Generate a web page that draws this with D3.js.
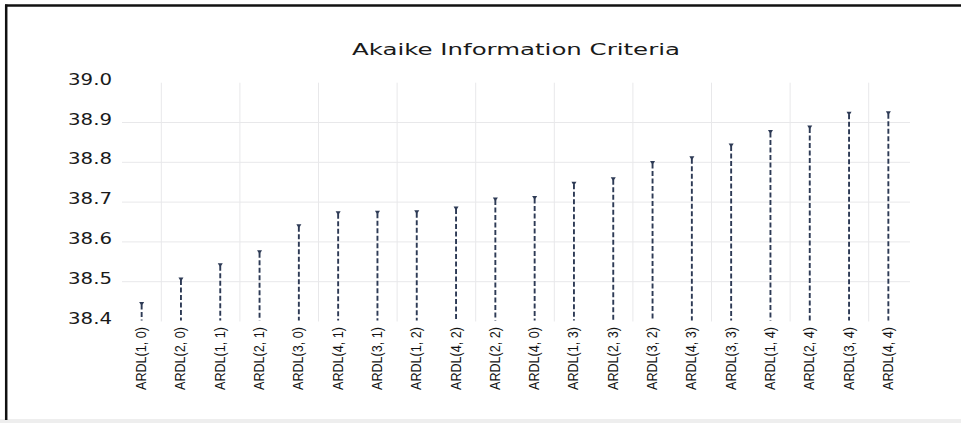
<!DOCTYPE html>
<html>
<head>
<meta charset="utf-8">
<script src="https://cdn.jsdelivr.net/npm/d3@7"></script>
<style>
  html, body { margin: 0; padding: 0; background: #ffffff; }
  svg { display: block; }
</style>
</head>
<body>
<svg id="chart" width="961" height="423"></svg>
<script>
const title = "Akaike Information Criteria";
const categories = ["ARDL(1, 0)", "ARDL(2, 0)", "ARDL(1, 1)", "ARDL(2, 1)", "ARDL(3, 0)",
  "ARDL(4, 1)", "ARDL(3, 1)", "ARDL(1, 2)", "ARDL(4, 2)", "ARDL(2, 2)",
  "ARDL(4, 0)", "ARDL(1, 3)", "ARDL(2, 3)", "ARDL(3, 2)", "ARDL(4, 3)",
  "ARDL(3, 3)", "ARDL(1, 4)", "ARDL(2, 4)", "ARDL(3, 4)", "ARDL(4, 4)"];
const aicValues = [38.448, 38.509, 38.545, 38.578, 38.643,
  38.676, 38.677, 38.678, 38.688, 38.710,
  38.714, 38.750, 38.761, 38.802, 38.814,
  38.846, 38.880, 38.891, 38.926, 38.927];
const yTicks = [38.4, 38.5, 38.6, 38.7, 38.8, 38.9, 39.0];
const yGridTicks = [38.5, 38.6, 38.7, 38.8, 38.9];

const svg = d3.select("#chart");
const stemColor = "#2d3a55";
const gridColor = "#e8e8ea";

// frame
svg.append("rect").attr("x", 0).attr("y", 419).attr("width", 961).attr("height", 4).attr("fill", "#eeeeee");
svg.append("line").attr("x1", 5).attr("x2", 961).attr("y1", 5.5).attr("y2", 5.5)
  .attr("stroke", "#111").attr("stroke-width", 2.5);
svg.append("line").attr("x1", 6.2).attr("x2", 6.2).attr("y1", 4.5).attr("y2", 420)
  .attr("stroke", "#111").attr("stroke-width", 2.5);

const x = d3.scaleBand().domain(categories).range([122, 908]).padding(0);
const y = d3.scaleLinear().domain([38.4, 39.0]).range([321.5, 82.7]);

// horizontal grid
svg.append("g").selectAll("line").data(yGridTicks).join("line")
  .attr("x1", 122).attr("x2", 910)
  .attr("y1", d => y(d)).attr("y2", d => y(d))
  .attr("stroke", gridColor).attr("stroke-width", 1);

// vertical grid at every other category boundary
const vGrid = categories.filter((c, i) => i % 2 === 1);
svg.append("g").selectAll("line").data(vGrid).join("line")
  .attr("x1", d => x(d)).attr("x2", d => x(d))
  .attr("y1", y(39.0)).attr("y2", y(38.4))
  .attr("stroke", gridColor).attr("stroke-width", 1);

// title
svg.append("text").attr("x", 516).attr("y", 55)
  .attr("text-anchor", "middle")
  .attr("font-family", "DejaVu Sans, sans-serif").attr("font-size", 15.5)
  .attr("fill", "#1a1a1a")
  .attr("textLength", 328).attr("lengthAdjust", "spacingAndGlyphs")
  .text(title);

// y axis
const yAxis = svg.append("g").attr("transform", "translate(122,0)")
  .call(d3.axisLeft(y).tickValues(yTicks).tickSize(0).tickPadding(10).tickFormat(d3.format(".1f")));
yAxis.select(".domain").remove();
yAxis.selectAll("text")
  .attr("font-family", "DejaVu Sans, sans-serif").attr("font-size", 15)
  .attr("fill", "#1a1a1a").attr("dy", "0.1em")
  .attr("textLength", 44).attr("lengthAdjust", "spacingAndGlyphs");

// x axis labels
const xAxis = svg.append("g").attr("transform", `translate(0,${y(38.4)})`)
  .call(d3.axisBottom(x).tickSize(0).tickPadding(0));
xAxis.select(".domain").remove();
xAxis.selectAll(".tick text")
  .attr("transform", "translate(4.5,5.5) rotate(-90)")
  .attr("x", 0).attr("y", 0).attr("dy", 0)
  .attr("text-anchor", "end")
  .attr("font-family", "Liberation Sans Narrow, Liberation Sans, Arial Narrow, sans-serif")
  .attr("font-size", 15)
  .attr("fill", "#111111")
  .attr("textLength", 63).attr("lengthAdjust", "spacingAndGlyphs");

// stems
const data = categories.map((c, i) => ({ c, v: aicValues[i] }));
const cx = d => x(d.c) + x.bandwidth() / 2;
svg.append("g").selectAll("line").data(data).join("line")
  .attr("x1", cx).attr("x2", cx)
  .attr("y1", d => y(d.v) + 2).attr("y2", y(38.4) - 1)
  .attr("stroke", stemColor).attr("stroke-width", 1.9)
  .attr("stroke-dasharray", "5,2.5");

// top markers
svg.append("g").selectAll("path").data(data).join("path")
  .attr("transform", d => `translate(${cx(d)},${y(d.v)})`)
  .attr("d", "M-2.5,-0.5 L2.5,-0.5 L0.7,2.5 L-0.7,2.5 Z")
  .attr("fill", stemColor);
</script>
</body>
</html>
